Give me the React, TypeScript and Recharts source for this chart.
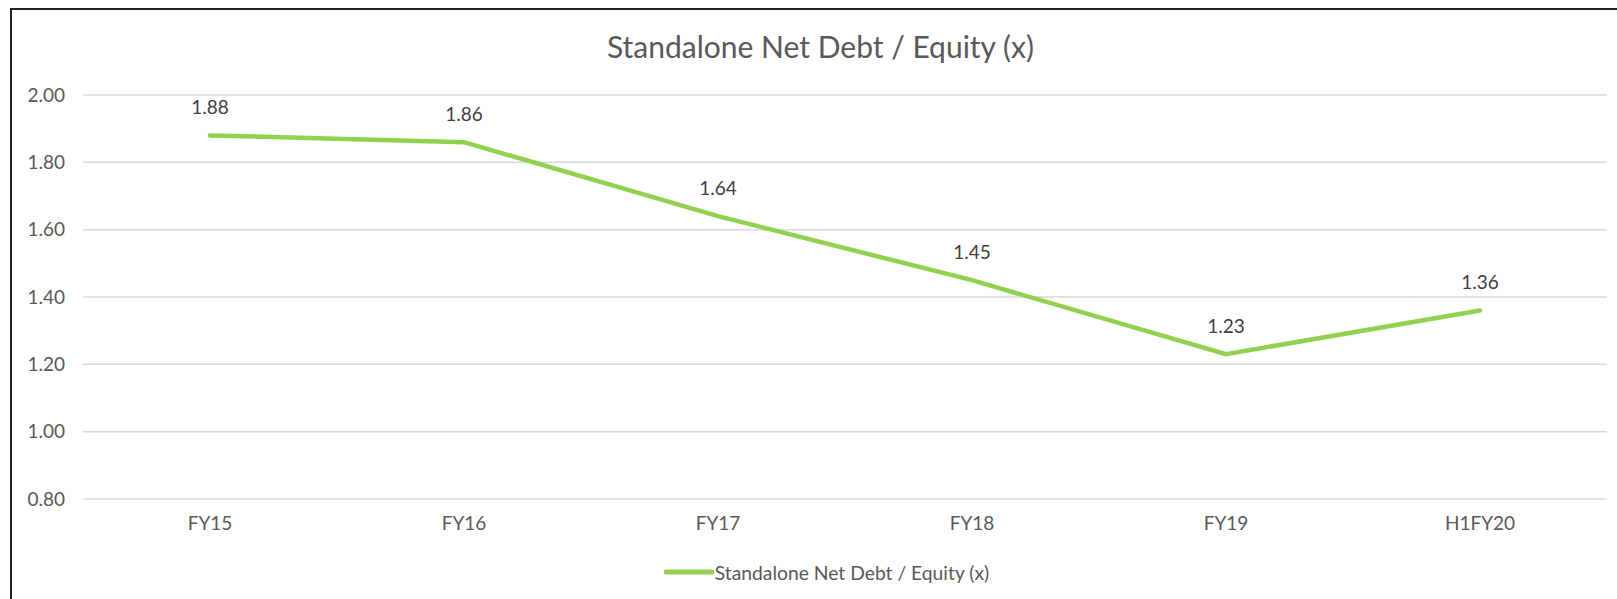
import React from 'react';
import { LineChart, Line, XAxis, YAxis, CartesianGrid, LabelList, Legend } from 'recharts';

const categories = ['FY15', 'FY16', 'FY17', 'FY18', 'FY19', 'H1FY20'];
const netDebtEquity = [1.88, 1.86, 1.64, 1.45, 1.23, 1.36];
const yTicks = [0.8, 1.0, 1.2, 1.4, 1.6, 1.8, 2.0];
const seriesName = 'Standalone Net Debt / Equity (x)';
const chartTitle = 'Standalone Net Debt / Equity (x)';

const data = categories.map((c, i) => ({ category: c, value: netDebtEquity[i] }));

const FONT = 'Lato, "Open Sans", sans-serif';
const GREEN = '#92D050';

const LegendContent = () => (
  <div style={{ display: 'flex', justifyContent: 'center', alignItems: 'center', height: 24, paddingLeft: 36 }}>
    <svg width={50} height={10} style={{ display: 'block' }}>
      <line x1={2} y1={5} x2={48} y2={5} stroke={GREEN} strokeWidth={5} strokeLinecap="round" />
    </svg>
    <span style={{ fontFamily: FONT, fontSize: 19.3, color: '#595959', marginLeft: 1 }}>{seriesName}</span>
  </div>
);

export default function App() {
  return (
    <div style={{ position: 'absolute', left: 0, top: 0, width: 1617, height: 599, background: '#fff', overflow: 'hidden' }}>
      <div style={{ position: 'absolute', left: 10, top: 8, width: 1700, height: 700, borderLeft: '2px solid #222', borderTop: '2px solid #222' }} />
      <div style={{ position: 'absolute', left: 0, top: 28, width: 1641, textAlign: 'center', fontFamily: FONT, fontSize: 30, color: '#595959' }}>
        {chartTitle}
      </div>
      <div style={{ position: 'absolute', left: 0, top: 0 }}>
        <LineChart width={1617} height={599} data={data} margin={{ top: 95, right: 10, left: 0, bottom: 46 }}>
          <CartesianGrid vertical={false} stroke="#D9D9D9" strokeWidth={1.5} />
          <XAxis dataKey="category" axisLine={false} tickLine={false} height={30} tickMargin={12}
            padding={{ left: 127, right: 127 }}
            tick={{ fontFamily: FONT, fontSize: 19, fill: '#595959' }} interval={0} />
          <YAxis domain={[0.8, 2.0]} ticks={yTicks} axisLine={false} tickLine={false} width={83} tickMargin={12}
            tickFormatter={(v: number) => v.toFixed(2)}
            tick={{ fontFamily: FONT, fontSize: 19, fill: '#595959' }} />
          <Legend content={<LegendContent />} height={24} wrapperStyle={{ top: 560, bottom: 'auto', left: 0, width: 1617 }} />
          <Line type="linear" dataKey="value" name={seriesName} stroke={GREEN} strokeWidth={4.5} strokeLinecap="round"
            dot={false} activeDot={false} isAnimationActive={false}>
            <LabelList dataKey="value" position="top" offset={21} formatter={(v: number) => v.toFixed(2)}
              style={{ fontFamily: FONT, fontSize: 19, fill: '#404040' }} />
          </Line>
        </LineChart>
      </div>
    </div>
  );
}
